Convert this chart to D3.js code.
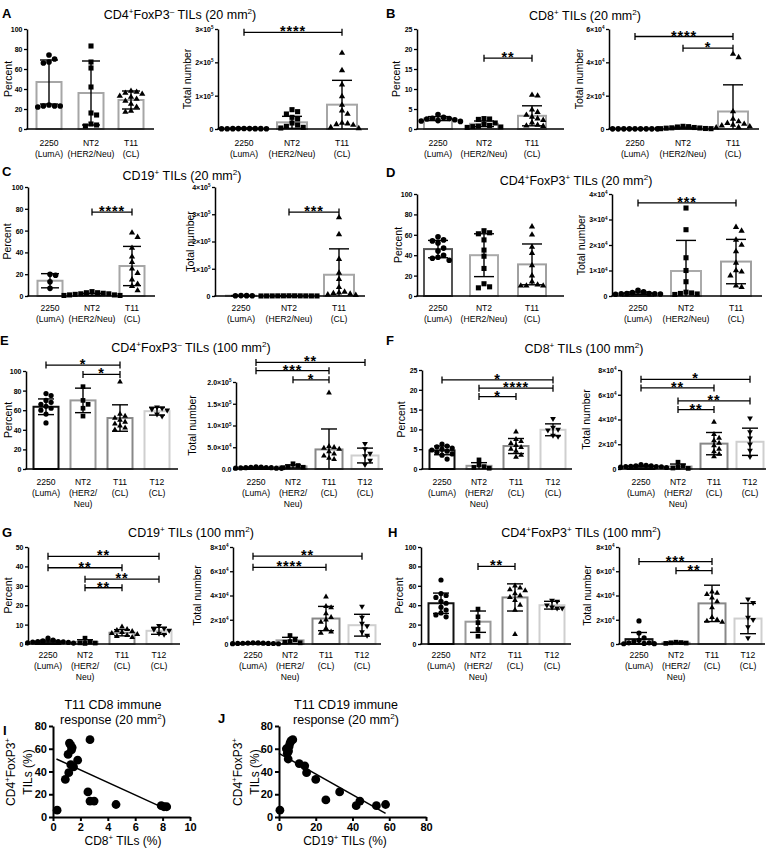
<!DOCTYPE html>
<html><head><meta charset="utf-8">
<script src="https://cdn.jsdelivr.net/npm/d3@7"></script>
<style>body{margin:0;background:#fff}</style>
</head><body><script>

// groups and labels
var cats3 = [["2250", "(LumA)"], ["NT2", "(HER2/Neu)"], ["T11", "(CL)"]];
var cats4 = [["2250", "(LumA)"], ["NT2", "(HER2/", "Neu)"], ["T11", "(CL)"], ["T12", "(CL)"]];
var titles = ["CD4{+}FoxP3{–} TILs (20 mm{2})", "CD8{+} TILs (20 mm{2})", "CD19{+} TILs (20 mm{2})",
  "CD4{+}FoxP3{+} TILs (20 mm{2})", "CD4{+}FoxP3{–} TILs (100 mm{2})", "CD8{+} TILs (100 mm{2})",
  "CD19{+} TILs (100 mm{2})", "CD4{+}FoxP3{+} TILs (100 mm{2})"];

// tick values
var ticks100 = [0, 20, 40, 60, 80, 100], ticks25 = [0, 5, 10, 15, 20, 25], ticks50 = [0, 10, 20, 30, 40, 50];
var ticksA = [0, 1e5, 2e5, 3e5], ticksB = [0, 2e4, 4e4, 6e4], ticksC = [0, 1e5, 2e5, 3e5, 4e5];
var ticksD = [0, 1e4, 2e4, 3e4, 4e4], ticksE = [0, 5e4, 1e5, 1.5e5, 2e5], ticks8e4 = [0, 2e4, 4e4, 6e4, 8e4];
var ticksIx = [0, 2, 4, 6, 8, 10], ticksJx = [0, 20, 40, 60, 80], ticksIJy = [0, 20, 40, 60, 80];

// A  CD4+FoxP3- 20 mm2
var aPctPts = [[74, 70, 67, 66, 23, 23, 22, 23, 24], [83, 67, 61, 42, 16, 14, 5, 4, 3], [38, 37, 36, 35, 33, 32, 30, 28, 25, 22, 18, 17]];
var aPctMean = [47, 36, 29], aPctSd = [22, 32, 9];
var aNumPts = [[1500, 1200, 1000, 800, 900, 1100, 1300, 1000, 700], [58000, 52000, 45000, 35000, 30000, 18000, 12000, 8000, 5000, 3000],
  [228000, 176000, 133000, 98000, 72000, 55000, 45000, 18000, 16000, 14000, 12000, 5000, 2000]];
var aNumMean = [2000, 20000, 73000], aNumSd = [500, 18000, 73000];
var aNumSig = [[0, 2, 290000, "****"]];

// B  CD8+ 20 mm2
var bPctPts = [[3.6, 2.9, 2.7, 2.6, 2.5, 2.3, 2.1, 2.0, 1.9], [2.6, 2.5, 2.4, 1.5, 1.2, 0.9, 0.7, 0.6, 0.5, 0.4],
  [8.5, 8.3, 4.8, 4.2, 3.5, 3.0, 2.6, 2.2, 1.6, 1.0, 0.8, 0.7]];
var bPctMean = [2.6, 1.3, 3.3], bPctSd = [0.5, 0.7, 2.5];
var bPctSig = [[1, 2, 17.7, "**"]];
var bNumPts = [[100, 100, 100, 100, 100, 100, 100, 100, 100], [1600, 1400, 1200, 900, 700, 600, 500, 300, 200, 200],
  [45000, 43000, 10500, 6000, 4500, 3500, 3000, 2500, 2000, 1500, 1000, 800]];
var bNumMean = [100, 700, 10500], bNumSd = [0, 400, 16000];
var bNumSig = [[0, 2, 55500, "****"], [1, 2, 48500, "*"]];

// C  CD19+ 20 mm2
var cPctPts = [[20, 19, 13, 7], [4, 3, 3, 2.5, 2, 2, 1.5, 1, 1, 0.5, 0.5], [58, 54, 44, 36, 31, 25, 21, 15, 11, 9, 5]];
var cPctMean = [14, 1.5, 27.5], cPctSd = [6.5, 1, 18];
var cPctSig = [[1, 2, 77, "****"]];
var cNumPts = [[1500, 1000, 800, 1200], [800, 700, 600, 500, 500, 400, 300, 300, 200, 200, 100],
  [288000, 226000, 135000, 85000, 62000, 32000, 15000, 12000, 10000, 8000, 5000, 3000]];
var cNumMean = [1100, 450, 78000], cNumSd = [300, 200, 95000];
var cNumSig = [[1, 2, 308000, "***"]];

// D  CD4+FoxP3+ 20 mm2
var dPctPts = [[58, 55, 54, 52, 47, 44, 40, 38, 37, 35], [64, 62, 61, 55, 45, 39, 27, 12, 9, 8], [68, 60, 48, 42, 30, 20, 14, 11, 10, 10, 10]];
var dPctMean = [46, 40, 31], dPctSd = [8.5, 21, 20];
var dNumPts = [[2200, 1600, 1300, 1000, 900, 800, 700, 900, 1000], [34500, 26000, 15000, 10000, 5600, 1500, 1200, 1000, 800, 600],
  [27000, 25500, 22000, 20000, 17500, 13000, 10000, 9500, 8000, 4000, 3500]];
var dNumMean = [1100, 9800, 13500], dNumSd = [500, 12000, 8700];
var dNumSig = [[0, 2, 36500, "***"]];

// E  CD4+FoxP3- 100 mm2
var ePctPts = [[77, 75, 70, 68, 66, 64, 62, 60, 56, 47], [84, 70, 66, 62, 54], [89, 56, 54, 52, 50, 48, 46, 44, 42, 40], [63, 62, 61, 60, 56, 54]];
var ePctMean = [63.5, 70, 52, 59], ePctSd = [8, 12.5, 13.5, 4];
var ePctSig = [[0, 2, 106, "*"], [1, 2, 96.5, "*"]];
var eNumPts = [[5000, 4500, 4000, 3500, 3000, 3000, 2500, 2000, 2000, 1500], [12000, 8000, 5000, 4000, 3000],
  [175000, 52000, 50000, 48000, 46000, 40000, 35000, 30000, 25000, 22000], [58000, 46000, 36000, 30000, 20000, 10000]];
var eNumMean = [3000, 6000, 45000, 31000], eNumSd = [1200, 3500, 47000, 17000];
var eNumSig = [[0, 3, 245000, "**"], [0, 2, 226000, "***"], [1, 2, 205000, "*"]];

// F  CD8+ 100 mm2
var fPctPts = [[6.3, 5.8, 5.6, 5.3, 5.0, 4.8, 4.5, 4.2, 3.8, 3.5, 2.5], [2.3, 1.0, 0.6, 0.4, 0.2],
  [9.4, 7.5, 7.0, 6.5, 6.0, 5.5, 5.0, 4.5, 3.5, 3.0], [12.7, 10.5, 10.0, 9.8, 8.5, 8.2]];
var fPctMean = [4.7, 0.8, 5.8, 9.9], fPctSd = [1.1, 0.8, 1.9, 1.5];
var fPctSig = [[0, 3, 22.5, "*"], [1, 3, 20.4, "****"], [1, 2, 18.3, "*"]];
var fNumPts = [[3500, 3000, 2600, 2500, 2200, 2000, 2000, 1800, 1500, 1200], [5500, 2500, 1500, 800, 500],
  [38000, 28000, 25000, 23000, 21000, 19000, 16000, 14000, 12000, 10000], [41000, 30000, 25000, 20000, 15000, 10000]];
var fNumMean = [2200, 2000, 20500, 22000], fNumSd = [700, 2000, 9000, 11000];
var fNumSig = [[0, 3, 72500, "*"], [0, 2, 65500, "**"], [1, 3, 55000, "**"], [1, 2, 48000, "**"]];

// G  CD19+ 100 mm2
var gPctPts = [[3.0, 2.0, 1.6, 1.3, 1.2, 1.0, 0.8, 0.6, 0.5, 1.1], [3.0, 1.0, 0.6, 0.5, 0.3],
  [8.8, 7.5, 7.0, 6.5, 6.0, 5.5, 5.0, 4.5, 4.0, 3.5], [9.5, 8.0, 7.5, 7.0, 5.5, 5.0]];
var gPctMean = [1.3, 1.1, 5.8, 6.8], gPctSd = [0.7, 1.1, 1.6, 1.8];
var gPctSig = [[0, 3, 45.2, "**"], [0, 2, 39.3, "**"], [1, 3, 33.4, "**"], [1, 2, 29, "**"]];
var gNumPts = [[1000, 900, 800, 700, 600, 500, 500, 400, 300, 200], [7000, 3500, 2000, 1500, 1000],
  [39000, 31000, 30000, 25000, 22000, 20000, 18000, 13000, 10000, 9000], [31000, 22000, 17000, 15000, 10000, 7000]];
var gNumMean = [600, 3000, 21000, 15500], gNumSd = [300, 2500, 10000, 9000];
var gNumSig = [[0, 3, 72400, "**"], [0, 2, 63200, "****"]];

// H  CD4+FoxP3+ 100 mm2
var hPctPts = [[66, 52, 50, 48, 44, 42, 38, 35, 32, 30, 28], [36, 28, 22, 15, 8],
  [60, 58, 56, 55, 52, 50, 48, 45, 40, 35, 10], [45, 44, 40, 38, 37, 37]];
var hPctMean = [42, 23, 48, 40], hPctSd = [10.5, 11, 14, 4];
var hPctSig = [[1, 2, 80, "**"]];
var hNumPts = [[19000, 9000, 5000, 3000, 2000, 1000, 500, 300, 200, 1000], [1500, 1200, 1000, 800, 500],
  [43000, 42000, 41000, 38000, 35000, 30000, 22000, 20000, 19000, 18000], [37000, 34000, 22000, 20000, 14000, 5000]];
var hNumMean = [4000, 1000, 33500, 21000], hNumSd = [5500, 400, 15000, 12500];
var hNumSig = [[0, 2, 68000, "***"], [1, 2, 60500, "**"]];

// I / J  correlations
var iX = [0.3, 0.9, 1.1, 1.15, 1.2, 1.3, 1.35, 1.4, 1.3, 1.5, 1.8, 2.7, 2.55, 2.7, 3.0, 4.6, 7.9, 8.1, 8.3];
var iY = [6, 33, 55, 39, 65, 63, 59, 61, 46, 44, 50, 68, 22, 14, 14, 11, 10, 9, 9];
var iFitX = [0.25, 8.1], iFitCoef = [52.4, -5.5];
var jX = [0.5, 4, 4.5, 5, 5.5, 6, 6.5, 7.5, 5.2, 11, 14, 15, 20, 25.5, 33, 42, 44, 53, 58];
var jY = [6, 60, 56, 51, 62, 65, 67, 68, 58, 47, 45, 39, 33, 15, 22, 10, 14, 10, 11];
var jFitX = [0, 58], jFitCoef = [56, -0.91];


var svg = d3.select("body").append("svg")
  .attr("width", 768).attr("height", 858)
  .style("font-family", "'Liberation Sans', Arial, sans-serif");

// text with {superscript} parts
function rich(t, str, fs) {
  var up = false;
  str.split(/(\{[^}]*\})/).filter(function(s) { return s.length; }).forEach(function(p) {
    var sup = p[0] === "{";
    var ts = t.append("tspan").text(sup ? p.slice(1, -1) : p);
    if (sup) { ts.attr("font-size", fs * 0.65).attr("dy", -fs * 0.4); up = true; }
    else if (up) { ts.attr("dy", fs * 0.4); up = false; }
  });
  return t;
}

function plain(d) { return String(d); }
function sci(d) {
  if (d === 0) return "0";
  var e = Math.floor(Math.log10(d) + 1e-9);
  return Math.round(d / Math.pow(10, e)) + "×10{" + e + "}";
}
function sciDec(d) {
  if (d === 0) return "0.0";
  var e = Math.floor(Math.log10(d) + 1e-9);
  return (d / Math.pow(10, e)).toFixed(1) + "×10{" + e + "}";
}

// simple deterministic swarm: returns x offsets
function swarm(ys, sp) {
  var order = d3.range(ys.length).sort(function(a, b) { return ys[a] - ys[b]; });
  var placed = [], dx = [];
  order.forEach(function(k) {
    for (var j = 0; j < 60; j++) {
      var c = j === 0 ? 0 : (j % 2 ? 1 : -1) * Math.ceil(j / 2) * sp;
      var ok = placed.every(function(p) { return Math.hypot(p[0] - c, p[1] - ys[k]) >= sp * 0.97; });
      if (ok) { dx[k] = c; placed.push([c, ys[k]]); break; }
    }
  });
  return dx;
}

var shapes = [
  {type: d3.symbolCircle, size: 25, rot: 0},
  {type: d3.symbolSquare, size: 26, rot: 0},
  {type: d3.symbolTriangle, size: 17, rot: 0},
  {type: d3.symbolTriangle, size: 17, rot: 180}
];

function barChart(o) {
  var n = o.pts.length;
  var y = d3.scaleLinear().domain([0, o.max]).range([o.bottom, o.top]);
  var x = d3.scaleOrdinal().domain(d3.range(n)).range(o.offs.map(function(d) { return o.axisX + d; }));
  var g = svg.append("g");

  g.selectAll("rect").data(o.mean).join("rect")
    .attr("x", function(d, i) { return x(i) - o.bw / 2; })
    .attr("y", function(d) { return y(d); })
    .attr("width", o.bw)
    .attr("height", function(d) { return y(0) - y(d); })
    .attr("fill", "#fff")
    .attr("stroke", function(d, i) { return o.colors[i]; })
    .attr("stroke-width", 2);

  o.pts.forEach(function(vals, i) {
    var ys = vals.map(function(v) { return y(v); });
    var dx = swarm(ys, o.sp);
    g.selectAll(null).data(vals).join("path")
      .attr("transform", function(d, k) { return "translate(" + (x(i) + dx[k]) + "," + ys[k] + ") rotate(" + shapes[i].rot + ")"; })
      .attr("d", d3.symbol().type(shapes[i].type).size(shapes[i].size * o.ms))
      .attr("fill", "#000");
  });

  // error bars (mean ± SD)
  o.mean.forEach(function(m, i) {
    var hi = y(m + o.sd[i]), lo = y(Math.max(0, m - o.sd[i])), cx = x(i), cw = o.cap / 2;
    g.append("line").attr("x1", cx).attr("x2", cx).attr("y1", lo).attr("y2", hi)
      .attr("stroke", "#000").attr("stroke-width", 1.4);
    g.append("line").attr("x1", cx - cw).attr("x2", cx + cw).attr("y1", hi).attr("y2", hi)
      .attr("stroke", "#000").attr("stroke-width", 1.4);
    if (m - o.sd[i] > 0) {
      g.append("line").attr("x1", cx - cw).attr("x2", cx + cw).attr("y1", lo).attr("y2", lo)
        .attr("stroke", "#000").attr("stroke-width", 1.4);
    }
  });

  // significance brackets
  o.sig.forEach(function(s) {
    var yy = y(s[2]), x1 = x(s[0]), x2 = x(s[1]);
    g.append("line").attr("x1", x1).attr("x2", x2).attr("y1", yy).attr("y2", yy)
      .attr("stroke", "#000").attr("stroke-width", 1.3);
    [x1, x2].forEach(function(xx) {
      g.append("line").attr("x1", xx).attr("x2", xx).attr("y1", yy - 3.5).attr("y2", yy + 3.5)
        .attr("stroke", "#000").attr("stroke-width", 1.3);
    });
    g.append("text").attr("x", (x1 + x2) / 2).attr("y", yy + 4)
      .attr("text-anchor", "middle").attr("font-size", 14.5).attr("font-weight", "bold")
      .attr("letter-spacing", 0.8).text(s[3]);
  });

  // y axis
  var ax = g.append("g").attr("transform", "translate(" + o.axisX + ",0)")
    .call(d3.axisLeft(y).tickValues(o.ticks).tickSize(3).tickSizeOuter(0).tickFormat(""));
  ax.select(".domain").attr("stroke-width", 1.5);
  ax.selectAll(".tick line").attr("stroke-width", 1.3);
  ax.selectAll(".tick").each(function(d) {
    var t = d3.select(this).append("text").attr("x", -4.5).attr("dy", "0.35em")
      .attr("text-anchor", "end").attr("font-size", 7).attr("font-weight", "bold").attr("fill", "#000");
    rich(t, o.fmt(d), 7);
  });

  // x axis line
  g.append("line").attr("x1", o.axisX - 0.75).attr("x2", o.axisX + o.xLen)
    .attr("y1", y(0)).attr("y2", y(0)).attr("stroke", "#000").attr("stroke-width", 1.6);

  // category labels
  o.cats.forEach(function(lines, i) {
    lines.forEach(function(l, k) {
      g.append("text").attr("x", x(i)).attr("y", o.labY + k * 10.8)
        .attr("text-anchor", "middle").attr("font-size", 8.6).text(l);
    });
  });

  // y title
  g.append("text").attr("transform", "translate(" + o.ylabX + "," + ((o.top + o.bottom) / 2) + ") rotate(-90)")
    .attr("text-anchor", "middle").attr("dy", "0.35em").attr("font-size", 10.5).text(o.ylab);
}

var gray3 = ["#a6a6a6", "#a6a6a6", "#a6a6a6"];
var grayD = ["#555", "#aaa", "#a0a0a0"];
var gray4 = ["#111", "#9a9a9a", "#888", "#cfcfcf"];
var L3n = [22, 64, 104], L3 = [21, 67, 115], R3 = [26, 74, 124];
var L4 = [20, 57, 94, 131], R4 = [20, 57, 93, 129];

function row3(left, axisX, top, bottom, labY, ylabX, max, ticks, fmt, pts, mean, sd, sig, colors, ylab, narrow) {
  barChart({axisX: axisX, offs: left ? (narrow ? L3n : L3) : R3, bw: left ? (narrow ? 25 : 28) : 30,
    xLen: left ? (narrow ? 127 : 147) : 150,
    top: top, bottom: bottom, labY: labY, ylabX: ylabX, max: max, ticks: ticks, fmt: fmt,
    pts: pts, mean: mean, sd: sd, sig: sig, colors: colors, cats: cats3, ylab: ylab,
    ms: 1, sp: 5.6, cap: narrow ? 18 : 20});
}
function row4(left, axisX, top, bottom, labY, ylabX, max, ticks, fmt, pts, mean, sd, sig, ylab, xLen) {
  barChart({axisX: axisX, offs: left ? L4 : R4, bw: left ? 25 : 27, xLen: xLen,
    top: top, bottom: bottom, labY: labY, ylabX: ylabX, max: max, ticks: ticks, fmt: fmt,
    pts: pts, mean: mean, sd: sd, sig: sig, colors: gray4, cats: cats4, ylab: ylab,
    ms: 0.85, sp: 5.1, cap: 16});
}

// A
row3(true, 27, 29, 129, 146, 8, 100, ticks100, plain, aPctPts, aPctMean, aPctSd, [], gray3, "Percent", true);
row3(false, 218, 29, 129, 146, 187, 3e5, ticksA, sci, aNumPts, aNumMean, aNumSd, aNumSig, gray3, "Total number");
// B
row3(true, 417, 29, 129, 146, 396, 25, ticks25, plain, bPctPts, bPctMean, bPctSd, bPctSig, gray3, "Percent");
row3(false, 609, 29, 129, 146, 579, 6e4, ticksB, sci, bNumPts, bNumMean, bNumSd, bNumSig, gray3, "Total number");
// C
row3(true, 28, 187, 296, 311, 7, 100, ticks100, plain, cPctPts, cPctMean, cPctSd, cPctSig, gray3, "Percent", true);
row3(false, 215, 187, 296, 311, 190, 4e5, ticksC, sci, cNumPts, cNumMean, cNumSd, cNumSig, gray3, "Total number");
// D
row3(true, 417, 194, 296, 311, 398, 100, ticks100, plain, dPctPts, dPctMean, dPctSd, [], grayD, "Percent");
row3(false, 612, 194, 296, 311, 581, 4e4, ticksD, sci, dNumPts, dNumMean, dNumSd, dNumSig, grayD, "Total number");
// E
row4(true, 26, 371, 469, 485, 8, 100, ticks100, plain, ePctPts, ePctMean, ePctSd, ePctSig, "Percent", 152);
row4(false, 236, 382, 469, 485, 192, 2e5, ticksE, sciDec, eNumPts, eNumMean, eNumSd, eNumSig, "Total number", 147);
// F
row4(true, 422, 370, 469, 485, 401, 25, ticks25, plain, fPctPts, fPctMean, fPctSd, fPctSig, "Percent", 150);
row4(false, 621, 370, 469, 485, 586, 8e4, ticks8e4, sci, fNumPts, fNumMean, fNumSd, fNumSig, "Total number", 145);
// G
row4(true, 28, 547, 644, 658, 8, 50, ticks50, plain, gPctPts, gPctMean, gPctSd, gPctSig, "Percent", 152);
row4(false, 233, 547, 644, 658, 197, 8e4, ticks8e4, sci, gNumPts, gNumMean, gNumSd, gNumSig, "Total number", 148);
// H
row4(true, 421, 547, 644, 658, 399, 100, ticks100, plain, hPctPts, hPctMean, hPctSd, hPctSig, "Percent", 150);
row4(false, 619, 547, 644, 658, 587, 8e4, ticks8e4, sci, hNumPts, hNumMean, hNumSd, hNumSig, "Total number", 146);

// panel letters and titles
var letters = ["A", "B", "C", "D", "E", "F", "G", "H"];
var letterPos = [[2, 18], [386, 18], [2, 176], [386, 177], [0, 345], [386, 345], [2, 537], [388, 537]];
var titlePos = [[180, 18.5], [585, 19.5], [182, 179.5], [576, 185], [191, 352], [584, 353], [191, 537], [581, 537]];
letters.forEach(function(L, i) {
  svg.append("text").attr("x", letterPos[i][0]).attr("y", letterPos[i][1])
    .attr("font-size", 13).attr("font-weight", "bold").text(L);
  rich(svg.append("text").attr("x", titlePos[i][0]).attr("y", titlePos[i][1])
    .attr("text-anchor", "middle").attr("font-size", 12.5), titles[i], 12.5);
});

// correlation scatter
function scatter(o) {
  var x = d3.scaleLinear().domain([0, o.xMax]).range([o.x0, o.x1]);
  var y = d3.scaleLinear().domain([0, 80]).range([817, 726]);
  var g = svg.append("g");
  g.selectAll("circle").data(o.xs).join("circle")
    .attr("cx", function(d) { return x(d); })
    .attr("cy", function(d, i) { return y(o.ys[i]); })
    .attr("r", 4.4).attr("fill", "#000");
  g.append("line")
    .attr("x1", x(o.fitX[0])).attr("y1", y(o.coef[0] + o.coef[1] * o.fitX[0]))
    .attr("x2", x(o.fitX[1])).attr("y2", y(o.coef[0] + o.coef[1] * o.fitX[1]))
    .attr("stroke", "#000").attr("stroke-width", 1.5);
  var ay = g.append("g").attr("transform", "translate(" + o.x0 + ",0)")
    .call(d3.axisLeft(y).tickValues(ticksIJy).tickSize(4).tickSizeOuter(0).tickPadding(2));
  var axx = g.append("g").attr("transform", "translate(0,817)")
    .call(d3.axisBottom(x).tickValues(o.xt).tickSize(4).tickSizeOuter(0).tickPadding(2));
  [ay, axx].forEach(function(a) {
    a.select(".domain").attr("stroke-width", 2);
    a.selectAll(".tick line").attr("stroke-width", 2);
    a.selectAll(".tick text").attr("font-size", 11).attr("font-weight", "bold")
      .attr("font-family", "'Liberation Sans', Arial, sans-serif").attr("fill", "#000");
  });
  rich(g.append("text").attr("x", o.xlabX).attr("y", 845).attr("text-anchor", "middle").attr("font-size", 12), o.xlab, 12);
  [["CD4{+}FoxP3{+}", o.yl1], ["TILs (%)", o.yl2]].forEach(function(p) {
    rich(g.append("text").attr("transform", "translate(" + p[1] + ",772) rotate(-90)")
      .attr("text-anchor", "middle").attr("dy", "0.35em").attr("font-size", 12), p[0], 12);
  });
  o.title.forEach(function(t, k) {
    rich(g.append("text").attr("x", o.titleX).attr("y", 709 + k * 15).attr("text-anchor", "middle")
      .attr("font-size", 12.5), t, 12.5);
  });
  svg.append("text").attr("x", o.letter[1]).attr("y", o.letter[2])
    .attr("font-size", 13).attr("font-weight", "bold").text(o.letter[0]);
}

scatter({xs: iX, ys: iY, fitX: iFitX, coef: iFitCoef, xMax: 10, x0: 53, x1: 190, xt: ticksIx,
  xlab: "CD8{+} TILs (%)", xlabX: 123, yl1: 11, yl2: 28, titleX: 113,
  title: ["T11 CD8 immune", "response (20 mm{2})"], letter: ["I", 3, 735]});
scatter({xs: jX, ys: jY, fitX: jFitX, coef: jFitCoef, xMax: 80, x0: 279, x1: 426, xt: ticksJx,
  xlab: "CD19{+} TILs (%)", xlabX: 345, yl1: 238, yl2: 255, titleX: 346,
  title: ["T11 CD19 immune", "response (20 mm{2})"], letter: ["J", 218, 723]});

</script></body></html>
